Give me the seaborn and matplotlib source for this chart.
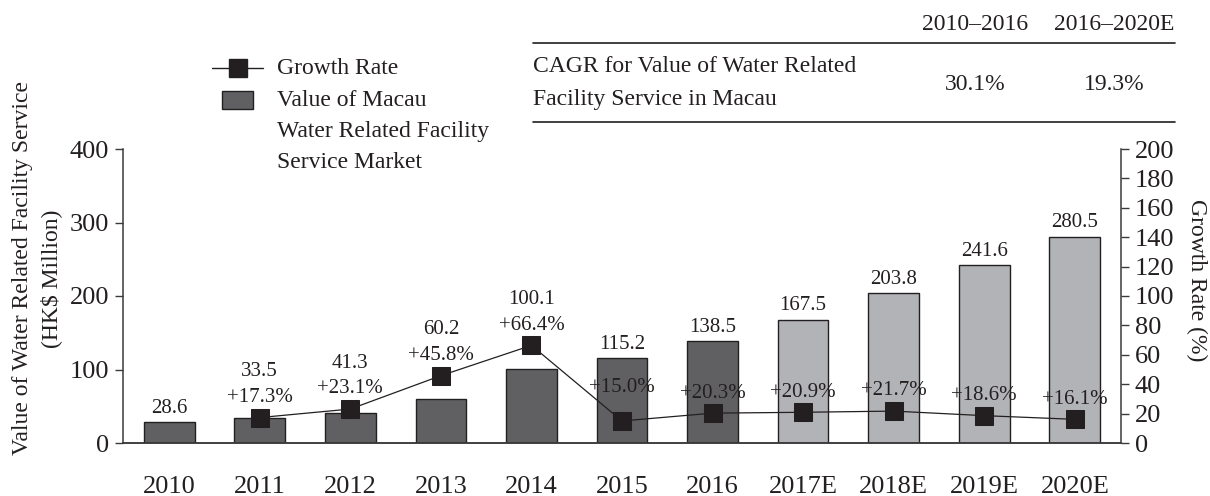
import numpy as np
import matplotlib
matplotlib.use('Agg')
import matplotlib.pyplot as plt
from matplotlib.lines import Line2D
from matplotlib.patches import Rectangle
import seaborn as sns

# --- data ---
years = ["2010", "2011", "2012", "2013", "2014", "2015", "2016",
         "2017E", "2018E", "2019E", "2020E"]
market_value = [28.6, 33.5, 41.3, 60.2, 100.1, 115.2, 138.5,
                167.5, 203.8, 241.6, 280.5]
growth_years = years[1:]
growth_rate = [17.3, 23.1, 45.8, 66.4, 15.0, 20.3, 20.9, 21.7, 18.6, 16.1]
forecast_years = ["2017E", "2018E", "2019E", "2020E"]

cagr_periods = ["2010\u20132016", "2016\u20132020E"]
cagr_values = ["30.1%", "19.3%"]

DARK = "#606062"
LIGHT = "#b2b3b7"
INK = "#231f20"

sns.set_style("ticks")
plt.rcParams['font.family'] = ['Liberation Serif', 'DejaVu Serif']

W, H = 1210, 496
fig = plt.figure(figsize=(W / 100, H / 100), dpi=100)


def fx(px):
    return px / W


def fy(py):
    return 1 - py / H


ax = fig.add_axes([fx(123), fy(443), fx(998), 294 / H])

bar_colors = [LIGHT if y in forecast_years else DARK for y in years]
sns.barplot(x=years, y=market_value, hue=years, palette=bar_colors,
            legend=False, width=0.56, edgecolor=INK, linewidth=1.0,
            saturation=1, ax=ax)
ax.set_xlim(-0.51, len(years) - 0.49)
ax.set_ylim(0, 400)
ax.set_yticks([0, 100, 200, 300, 400])
ax.set_xlabel("")
ax.set_ylabel("")

ax2 = ax.twinx()
growth_pos = [years.index(y) for y in growth_years]
sns.lineplot(x=growth_pos, y=growth_rate, ax=ax2, color=INK, linewidth=0.9,
             marker="s", markersize=12.5, markeredgecolor=INK,
             markerfacecolor=INK)
ax2.set_ylim(0, 200)
ax2.set_yticks(np.arange(0, 201, 20))
ax2.set_xlim(ax.get_xlim())

for a in (ax, ax2):
    a.spines['top'].set_visible(False)
    for s in a.spines.values():
        s.set_color("#3a3a3a")
        s.set_linewidth(1.1)
    a.tick_params(axis='y', length=6, width=1.0, pad=4, labelsize=19,
                  color="#3a3a3a", labelcolor=INK)
ax.spines['right'].set_visible(False)
ax2.spines['left'].set_visible(False)
ax.tick_params(axis='x', length=0, pad=24, labelsize=19, labelcolor=INK)

# --- labels on bars and markers ---
nudge = {"2015": 24}
for i, (yr, v) in enumerate(zip(years, market_value)):
    if yr in growth_years:
        g = growth_rate[growth_years.index(yr)]
        stacked = g * 2 >= v
    else:
        stacked = False
    if stacked:
        ax2.annotate(f"{v}", xy=(i, g), xytext=(0, 33),
                     textcoords='offset points', ha='center', va='center',
                     fontsize=15, color=INK)
    else:
        ax.annotate(f"{v}", xy=(i, v), xytext=(0, 10),
                    textcoords='offset points', ha='center', va='center',
                    fontsize=15, color=INK)
    if yr in growth_years:
        ax2.annotate(f"+{g:.1f}%", xy=(i, g), xytext=(0, nudge.get(yr, 14.5)),
                     textcoords='offset points', ha='center', va='center',
                     fontsize=15, color=INK)

# --- axis titles ---
fig.text(fx(23), fy(268), "Value of Water Related Facility Service",
         rotation=90, ha='center', va='center', fontsize=17, color=INK)
fig.text(fx(51), fy(279), "(HK$ Million)",
         rotation=90, ha='center', va='center', fontsize=17, color=INK)
fig.text(fx(1197), fy(280), "Growth Rate (%)", rotation=270,
         ha='center', va='center', fontsize=17, color=INK)

# --- legend ---
fig.add_artist(Line2D([fx(212), fx(263)], [fy(68), fy(68)], color=INK,
                      linewidth=1.0, transform=fig.transFigure))
fig.add_artist(Line2D([fx(237.5)], [fy(68)], marker='s', markersize=13,
                      color=INK, transform=fig.transFigure))
fig.add_artist(Rectangle((fx(222), fy(109)), fx(31), 18 / H,
                         facecolor=DARK, edgecolor=INK, linewidth=1.0,
                         transform=fig.transFigure))
legend_lines = [("Growth Rate", 68), ("Value of Macau", 100),
                ("Water Related Facility", 132), ("Service Market", 163)]
for txt, py in legend_lines:
    fig.text(fx(277), fy(py), txt, ha='left', va='center', fontsize=17,
             color=INK)

# --- CAGR table ---
for py in (43, 122):
    fig.add_artist(Line2D([fx(533), fx(1175)], [fy(py), fy(py)],
                          color=INK, linewidth=1.2,
                          transform=fig.transFigure))
fig.text(fx(533), fy(67), "CAGR for Value of Water Related", ha='left',
         va='center', fontsize=17, color=INK)
fig.text(fx(533), fy(99), "Facility Service in Macau", ha='left',
         va='center', fontsize=17, color=INK)
for cx, period, val in zip((975, 1114), cagr_periods, cagr_values):
    fig.text(fx(cx), fy(25), period, ha='center', va='center', fontsize=17,
             color=INK)
    fig.text(fx(cx), fy(85), val, ha='center', va='center', fontsize=17,
             color=INK)

fig.savefig("out.png", dpi=100)
